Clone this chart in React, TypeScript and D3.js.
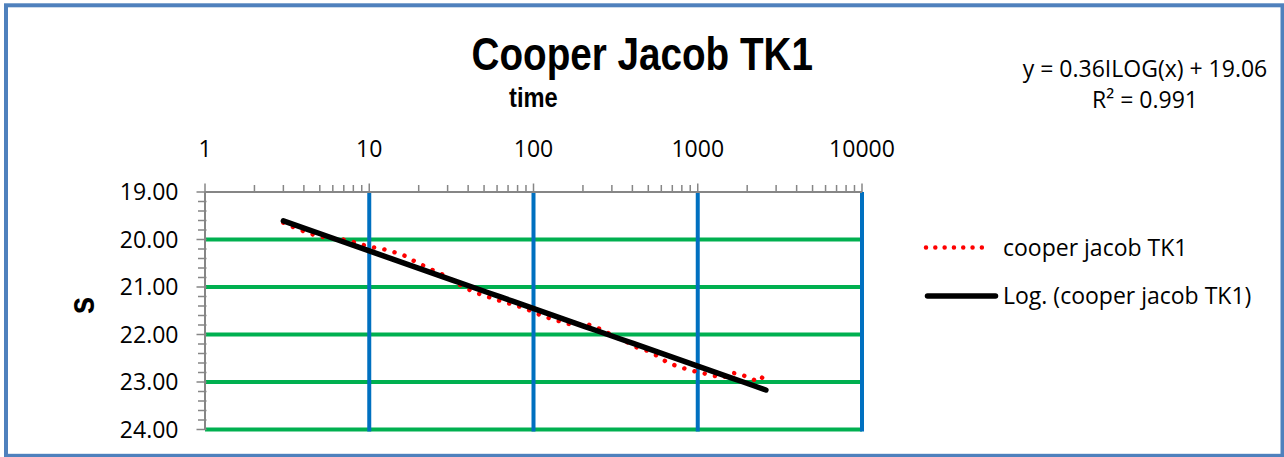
import React from "react";
import * as d3 from "d3";

const chartTitle = "Cooper Jacob TK1";
const xAxisTitle = "time";
const yAxisTitle = "s";
const seriesName = "cooper jacob TK1";
const trendName = "Log. (cooper jacob TK1)";
const equationLines = ["y = 0.36ILOG(x) + 19.06", "R² = 0.991"];

const xTickValues = [1, 10, 100, 1000, 10000];
const yTickValues = [19, 20, 21, 22, 23, 24];

const times = [
  3.0, 3.47, 4.0, 4.7, 5.54, 6.51, 7.56, 8.82, 10.3, 12.1, 14.1, 16.4, 18.9, 21.8, 25.2, 29.2,
  33.7, 38.8, 44.6, 51.8, 60.4, 70.5, 82.6, 95.9, 111, 129, 151, 176, 206, 241, 277, 319, 372,
  432, 496, 573, 657, 766, 889, 1037, 1209, 1410, 1600, 1814, 2057, 2366, 2600,
];
const sValues = [
  19.646, 19.743, 19.827, 19.912, 19.968, 19.983, 20.025, 20.101, 20.158, 20.2, 20.263, 20.341,
  20.459, 20.564, 20.669, 20.768, 20.909, 21.027, 21.12, 21.196, 21.274, 21.343, 21.415, 21.499,
  21.596, 21.674, 21.743, 21.806, 21.764, 21.848, 21.947, 22.059, 22.164, 22.284, 22.345,
  22.457, 22.594, 22.678, 22.747, 22.804, 22.853, 22.916, 22.804, 22.832, 22.916, 22.994, 22.8,
];

const W = 1284;
const H = 457;
const plot = { left: 205, right: 862, top: 192, bottom: 429.5 };

const labelFont = "'Open Sans', 'Noto Sans', sans-serif";
const boldFont = "'Liberation Sans', Arial, sans-serif";

export default function App() {
  const x = d3.scaleLog().domain([1, 10000]).range([plot.left, plot.right]);
  const y = d3.scaleLinear().domain([19, 24]).range([plot.top, plot.bottom]);

  const pts: [number, number][] = times.map((t, i) => [t, sValues[i]]);

  // logarithmic regression s = a*ln(t) + b
  const lx = times.map((t) => Math.log(t));
  const mx = d3.mean(lx) as number;
  const my = d3.mean(sValues) as number;
  const a =
    (d3.sum(lx, (v, i) => (v - mx) * (sValues[i] - my)) as number) /
    (d3.sum(lx, (v) => (v - mx) * (v - mx)) as number);
  const b = my - a * mx;
  const [t0, t1] = d3.extent(times) as [number, number];
  const trendPts: [number, number][] = d3
    .range(0, 41)
    .map((k) => Math.exp(Math.log(t0) + ((Math.log(t1) - Math.log(t0)) * k) / 40))
    .map((t) => [t, a * Math.log(t) + b]);

  const line = d3
    .line<[number, number]>()
    .x((d) => x(d[0]))
    .y((d) => y(d[1]));

  const minorX: number[] = [];
  for (let e = 0; e < 4; e++) for (let m = 2; m <= 9; m++) minorX.push(m * Math.pow(10, e));
  const minorY = d3.range(0, 26).map((k) => 19 + k * 0.2);

  const axisColor = "#868686";

  return (
    <svg width={W} height={H} style={{ position: "absolute", left: 0, top: 0, background: "#fff" }}>
      <rect x={0} y={0} width={W} height={H} fill="#fff" />
      {/* chart border */}
      <rect x={6} y={5.3} width={1276.5} height={450.5} fill="none" stroke="#4F81BD" strokeWidth={4} />

      {/* title */}
      <text
        x={471.5}
        y={70}
        fontFamily={boldFont}
        fontWeight="bold"
        fontSize={46}
        textLength={341.5}
        lengthAdjust="spacingAndGlyphs"
        fill="#000"
      >
        {chartTitle}
      </text>
      <text
        x={509}
        y={106.5}
        fontFamily={boldFont}
        fontWeight="bold"
        fontSize={28}
        textLength={48.7}
        lengthAdjust="spacingAndGlyphs"
        fill="#000"
      >
        {xAxisTitle}
      </text>

      {/* equation */}
      {equationLines.map((s, i) => (
        <text
          key={s}
          x={1145}
          y={77 + i * 31}
          textAnchor="middle"
          fontFamily={labelFont}
          fontSize={23}
          fill="#000"
        >
          {s}
        </text>
      ))}

      {/* horizontal gridlines */}
      {yTickValues
        .filter((v) => v > 19)
        .map((v) => (
          <line key={"gy" + v} x1={plot.left} x2={plot.right} y1={y(v)} y2={y(v)} stroke="#00B050" strokeWidth={4} />
        ))}
      {/* vertical gridlines */}
      {xTickValues
        .filter((v) => v > 1)
        .map((v) => (
          <line key={"gx" + v} x1={x(v)} x2={x(v)} y1={plot.top} y2={plot.bottom + 2} stroke="#0070C0" strokeWidth={4} />
        ))}

      {/* x axis (top) */}
      <line x1={plot.left} x2={plot.right} y1={plot.top} y2={plot.top} stroke={axisColor} strokeWidth={2} />
      {xTickValues.map((v) => (
        <line key={"xt" + v} x1={x(v)} x2={x(v)} y1={plot.top - 8.5} y2={plot.top} stroke={axisColor} strokeWidth={1.5} />
      ))}
      {minorX.map((v) => (
        <line key={"xm" + v} x1={x(v)} x2={x(v)} y1={plot.top - 7} y2={plot.top} stroke={axisColor} strokeWidth={1.5} />
      ))}
      {xTickValues.map((v) => (
        <text key={"xl" + v} x={x(v)} y={156.5} textAnchor="middle" fontFamily={labelFont} fontSize={23} fill="#000">
          {d3.format("d")(v)}
        </text>
      ))}

      {/* y axis */}
      <line x1={plot.left} x2={plot.left} y1={plot.top} y2={plot.bottom} stroke={axisColor} strokeWidth={2} />
      {minorY.map((v, i) => (
        <line
          key={"ym" + i}
          x1={i % 5 === 0 ? plot.left - 8.5 : plot.left - 7}
          x2={plot.left + 1.5}
          y1={y(v)}
          y2={y(v)}
          stroke={axisColor}
          strokeWidth={1.5}
        />
      ))}
      {yTickValues.map((v) => (
        <text
          key={"yl" + v}
          x={178.5}
          y={y(v)}
          dy="0.35em"
          textAnchor="end"
          fontFamily={labelFont}
          fontSize={23}
          fill="#000"
        >
          {d3.format(".2f")(v)}
        </text>
      ))}
      <text
        transform={`translate(83.5,305.5) rotate(-90)`}
        textAnchor="middle"
        dy="0.27em"
        fontFamily={boldFont}
        fontWeight="bold"
        fontSize={37}
        textLength={17.5}
        lengthAdjust="spacingAndGlyphs"
        fill="#000"
      >
        {yAxisTitle}
      </text>

      {/* data series (round dot) */}
      <path
        d={line(pts) || ""}
        fill="none"
        stroke="#FF0000"
        strokeWidth={4.5}
        strokeLinecap="round"
        strokeDasharray="0.01 10.5"
      />
      {/* trendline */}
      <path d={line(trendPts) || ""} fill="none" stroke="#000" strokeWidth={5.5} strokeLinecap="round" />

      {/* legend */}
      <line x1={926} x2={990} y1={247.5} y2={247.5} stroke="#FF0000" strokeWidth={4.5} strokeLinecap="round" strokeDasharray="0.01 9.3" />
      <text x={1003} y={247.5} dy="0.35em" fontFamily={labelFont} fontSize={23} fill="#000">
        {seriesName}
      </text>
      <line x1={927.5} x2={995.5} y1={296} y2={296} stroke="#000" strokeWidth={5.5} strokeLinecap="round" />
      <text x={1003} y={296} dy="0.35em" fontFamily={labelFont} fontSize={23} fill="#000">
        {trendName}
      </text>
    </svg>
  );
}
